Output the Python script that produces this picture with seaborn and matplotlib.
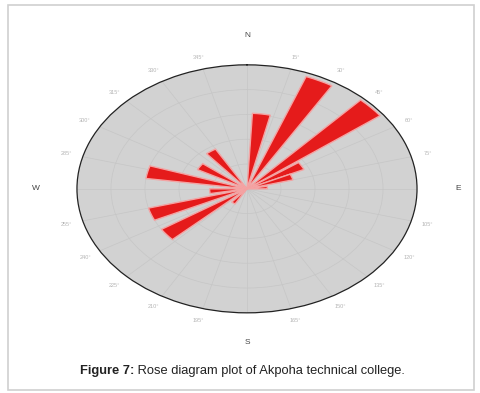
import matplotlib
matplotlib.use("Agg")
import matplotlib.pyplot as plt
import matplotlib.patches as mpatches
import numpy as np
import pandas as pd
import seaborn as sns

directions = [8, 26, 48, 60, 70, 85, 215, 232, 250, 265, 283, 303, 325]
lengths = [0.61, 0.97, 0.98, 0.37, 0.28, 0.12, 0.14, 0.60, 0.60, 0.22, 0.60, 0.33, 0.37]
bar_width_deg = 10

tick_angles = list(range(15, 360, 15))
tick_labels = [f"{a}°" for a in tick_angles]
cardinals = ["N", "E", "S", "W"]
cardinal_angles = [0, 90, 180, 270]

caption_bold = "Figure 7:"
caption_rest = " Rose diagram plot of Akpoha technical college."

sns.set_theme(style="white")
plt.rcParams['font.family'] = ['Liberation Sans', 'DejaVu Sans']

df = pd.DataFrame({"direction": directions, "length": lengths})

fig = plt.figure(figsize=(4.81, 3.93), dpi=100)
ax = fig.add_axes([0.160, 0.204, 0.707, 0.631], projection='polar')
ax.set_aspect('auto')
ax.set_theta_zero_location('N')
ax.set_theta_direction(-1)
ax.set_facecolor('#d2d2d2')

ax.bar(np.deg2rad(df["direction"]), df["length"], width=np.deg2rad(bar_width_deg),
       bottom=0, color='#e51b1b', edgecolor='#f4a3a3', linewidth=1.0, zorder=3)

ax.set_ylim(0, 1)
ax.set_yticks([0.2, 0.4, 0.6, 0.8])
ax.set_yticklabels([])
ax.set_xticks(np.deg2rad(range(0, 360, 15)))
ax.set_xticklabels([])
ax.grid(True, color='#c6c6c6', linewidth=0.5)
ax.spines['polar'].set_color('#222222')
ax.spines['polar'].set_linewidth(0.9)

for a, lab in zip(tick_angles, tick_labels):
    if a in cardinal_angles:
        continue
    ax.text(np.deg2rad(a), 1.1, lab, fontsize=4, color='#b5b5b5',
            ha='center', va='center', clip_on=False)

for a, lab in zip(cardinal_angles, cardinals):
    ax.text(np.deg2rad(a), 1.24, lab, fontsize=6, color='#444444',
            ha='center', va='center', clip_on=False)

# light frame round the figure
fig.patches.append(mpatches.Rectangle((8 / 481, 3 / 393), 466 / 481, 385 / 393,
                                      transform=fig.transFigure, fill=False,
                                      edgecolor='#d0d0d0', linewidth=1.2))

t1 = fig.text(80 / 481, 1 - 371 / 393, caption_bold, fontsize=9.3,
              fontweight='bold', color='#222222', va='center')
fig.canvas.draw()
bb = t1.get_window_extent()
fig.text(bb.x1 / fig.bbox.width, 1 - 371 / 393, caption_rest, fontsize=9.3,
         color='#222222', va='center')

fig.savefig("out.png", dpi=100)
